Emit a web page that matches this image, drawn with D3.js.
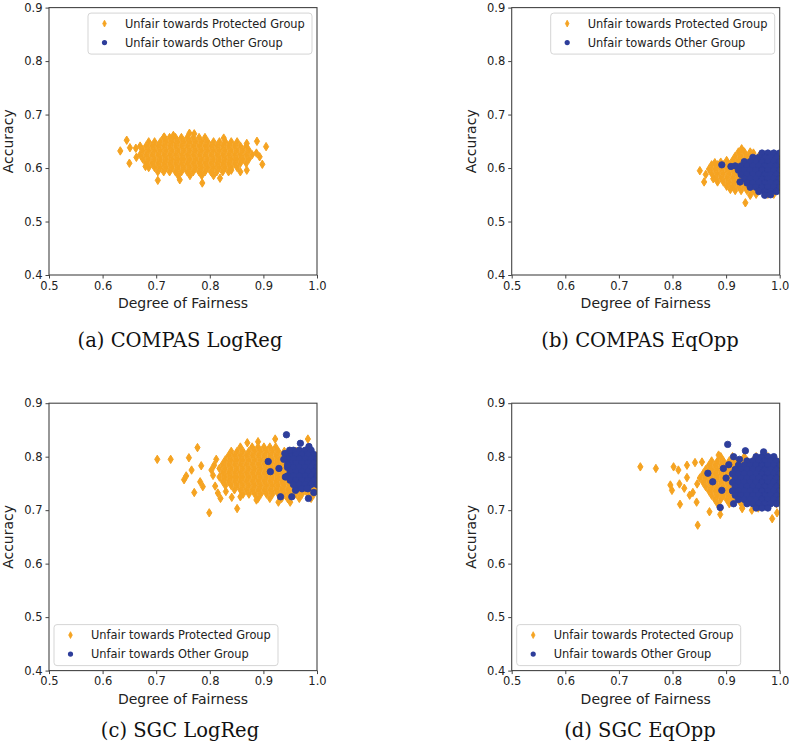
<!DOCTYPE html>
<html><head><meta charset="utf-8">
<script src="https://cdn.jsdelivr.net/npm/d3@7/dist/d3.min.js"></script>
<style>body{margin:0;background:#fff}svg{display:block}</style>
</head><body><svg id="chart" width="789" height="752"></svg>
<script>
const xTicks=[0.5,0.6,0.7,0.8,0.9,1.0];
const yTicks=[0.4,0.5,0.6,0.7,0.8,0.9];
const seriesNames=["Unfair towards Protected Group","Unfair towards Other Group"];
const captions=["(a) COMPAS LogReg","(b) COMPAS EqOpp","(c) SGC LogReg","(d) SGC EqOpp"];
const xLabel="Degree of Fairness", yLabel="Accuracy";

// rows: [accuracy, [degree of fairness values]] ; extras: [fairness, accuracy]
const aProtRows=[
[0.657,[0.714,0.725,0.736,0.747,0.758,0.769,0.780,0.791]],
[0.649,[0.686,0.697,0.708,0.719,0.730,0.741,0.752,0.763,0.774,0.785,0.796,0.807,0.818,0.829,0.840,0.851]],
[0.641,[0.670,0.681,0.692,0.703,0.714,0.725,0.736,0.747,0.758,0.769,0.780,0.791,0.802,0.813,0.824,0.835,0.846,0.857,0.868]],
[0.633,[0.675,0.686,0.697,0.708,0.719,0.730,0.741,0.752,0.763,0.774,0.785,0.796,0.807,0.818,0.829,0.840,0.851,0.862,0.873]],
[0.625,[0.670,0.681,0.692,0.703,0.714,0.725,0.736,0.747,0.758,0.769,0.780,0.791,0.802,0.813,0.824,0.835,0.846,0.857,0.868,0.879]],
[0.617,[0.675,0.686,0.697,0.708,0.719,0.730,0.741,0.752,0.763,0.774,0.785,0.796,0.807,0.818,0.829,0.840,0.851,0.862,0.873]],
[0.609,[0.681,0.692,0.703,0.714,0.725,0.736,0.747,0.758,0.769,0.780,0.791,0.802,0.813,0.824,0.835,0.846,0.857,0.868]],
[0.601,[0.686,0.697,0.708,0.719,0.730,0.741,0.752,0.763,0.774,0.785,0.796,0.807,0.818,0.829,0.840,0.851]],
[0.593,[0.703,0.714,0.725,0.736,0.747,0.758,0.769,0.780,0.791,0.802,0.813,0.824,0.835]],
[0.586,[0.741,0.763,0.785,0.807]]];
const aProtExtra=[[0.633,0.632],[0.645,0.652],[0.651,0.638],[0.662,0.637],[0.650,0.609],[0.888,0.650],[0.905,0.640],[0.898,0.607],[0.893,0.621],[0.887,0.628],[0.869,0.646],[0.857,0.593],[0.869,0.596],[0.703,0.577],[0.744,0.578],[0.786,0.572],[0.819,0.581],[0.715,0.658],[0.732,0.661],[0.762,0.665],[0.771,0.664],[0.826,0.656],[0.680,0.603],[0.840,0.596],[0.663,0.620]];
const aOtherRows=[];
const aOtherExtra=[];

const bProtRows=[
[0.630,[0.923,0.934,0.945]],
[0.622,[0.917,0.928,0.939,0.950,0.961,0.972,0.983,0.994]],
[0.614,[0.901,0.912,0.923,0.934,0.945,0.956,0.967,0.978,0.989,1.000]],
[0.606,[0.873,0.884,0.895,0.906,0.917,0.928,0.939,0.950,0.961,0.972,0.983,0.994]],
[0.598,[0.868,0.879,0.890,0.901,0.912,0.923,0.934,0.945,0.956,0.967,0.978,0.989,1.000]],
[0.590,[0.873,0.884,0.895,0.906,0.917,0.928,0.939,0.950,0.961,0.972,0.983,0.994]],
[0.582,[0.879,0.890,0.901,0.912,0.923,0.934,0.945,0.956,0.967,0.978,0.989,1.000]],
[0.574,[0.884,0.895,0.906,0.917,0.928,0.939,0.950,0.961,0.972,0.983,0.994]],
[0.566,[0.901,0.912,0.923,0.934,0.945,0.956,0.967,0.978,0.989,1.000]],
[0.558,[0.917,0.928,0.939,0.950,0.961,0.972,0.983,0.994]],
[0.551,[0.956,0.978,0.989]]];
const bProtExtra=[[0.851,0.595],[0.859,0.574],[0.936,0.535],[0.879,0.610],[0.929,0.636],[0.951,0.628],[0.862,0.588],[0.945,0.549],[0.890,0.611],[0.876,0.580],[0.908,0.560]];
const bOtherRows=[
[0.628,[0.967,0.978,0.989,1.000]],
[0.620,[0.950,0.961,0.972,0.983,0.994]],
[0.612,[0.934,0.945,0.956,0.967,0.978,0.989,1.000]],
[0.604,[0.917,0.928,0.939,0.950,0.961,0.972,0.983,0.994]],
[0.596,[0.923,0.934,0.945,0.956,0.967,0.978,0.989,1.000]],
[0.588,[0.928,0.939,0.950,0.961,0.972,0.983,0.994]],
[0.580,[0.934,0.945,0.956,0.967,0.978,0.989,1.000]],
[0.572,[0.939,0.950,0.961,0.972,0.983,0.994]],
[0.564,[0.945,0.956,0.967,0.978,0.989,1.000]],
[0.556,[0.961,0.972,0.983,0.994]]];
const bOtherExtra=[[0.892,0.606],[0.909,0.603],[0.926,0.574],[0.972,0.549],[0.983,0.550]];

const cProtRows=[
[0.818,[0.857,0.879,0.890,0.901,0.912,0.923]],
[0.810,[0.840,0.851,0.862,0.873,0.884,0.895,0.906,0.917,0.928,0.939,0.950,0.961]],
[0.802,[0.835,0.846,0.857,0.868,0.879,0.890,0.901,0.912,0.923,0.934,0.945,0.956,0.967,0.978,0.989,1.000]],
[0.794,[0.829,0.840,0.851,0.862,0.873,0.884,0.895,0.906,0.917,0.928,0.939,0.950,0.961,0.972,0.983,0.994]],
[0.786,[0.824,0.835,0.846,0.857,0.868,0.879,0.890,0.901,0.912,0.923,0.934,0.945,0.956,0.967,0.978,0.989,1.000]],
[0.778,[0.818,0.829,0.840,0.851,0.862,0.873,0.884,0.895,0.906,0.917,0.928,0.939,0.950,0.961,0.972,0.983,0.994]],
[0.770,[0.824,0.835,0.846,0.857,0.868,0.879,0.890,0.901,0.912,0.923,0.934,0.945,0.956,0.967,0.978,0.989,1.000]],
[0.762,[0.818,0.829,0.840,0.851,0.862,0.873,0.884,0.895,0.906,0.917,0.928,0.939,0.950,0.961,0.972,0.983,0.994]],
[0.754,[0.824,0.835,0.846,0.857,0.868,0.879,0.890,0.901,0.912,0.923,0.934,0.945,0.956,0.967,0.978,0.989,1.000]],
[0.746,[0.829,0.840,0.851,0.862,0.873,0.884,0.895,0.906,0.917,0.928,0.939,0.950,0.961,0.972,0.983,0.994]],
[0.738,[0.846,0.857,0.868,0.879,0.890,0.901,0.912,0.923,0.934,0.945,0.956,0.967,0.978,0.989,1.000]],
[0.730,[0.862,0.873,0.884,0.895,0.906,0.917,0.928,0.939,0.950,0.961,0.972,0.983,0.994]],
[0.722,[0.890,0.912,0.934,0.945,0.967,0.989]],
[0.715,[0.928,0.950]]];
const cProtExtra=[[0.702,0.795],[0.727,0.795],[0.777,0.817],[0.761,0.798],[0.766,0.775],[0.752,0.757],[0.756,0.764],[0.771,0.733],[0.784,0.783],[0.782,0.753],[0.787,0.744],[0.799,0.695],[0.851,0.703],[0.820,0.722],[0.808,0.784],[0.841,0.724],[0.857,0.725],[0.887,0.719],[0.922,0.833],[0.983,0.833],[0.890,0.828],[0.806,0.765],[0.803,0.775],[0.810,0.745],[0.815,0.732],[0.870,0.826],[0.812,0.795],[0.830,0.735]];
const cOtherRows=[
[0.812,[0.956,0.967,0.978,0.989]],
[0.804,[0.950,0.961,0.972,0.983,0.994]],
[0.796,[0.945,0.956,0.967,0.978,0.989,1.000]],
[0.788,[0.950,0.961,0.972,0.983,0.994]],
[0.780,[0.945,0.956,0.967,0.978,0.989,1.000]],
[0.772,[0.950,0.961,0.972,0.983,0.994]],
[0.764,[0.945,0.956,0.967,0.978,0.989,1.000]],
[0.756,[0.950,0.961,0.972,0.983,0.994]],
[0.748,[0.956,0.967,0.978,0.989,1.000]],
[0.740,[0.961,0.972,0.983]]];
const cOtherExtra=[[0.943,0.841],[0.969,0.825],[0.909,0.791],[0.913,0.772],[0.929,0.778],[0.941,0.762],[0.932,0.725],[0.953,0.725],[0.984,0.722],[0.981,0.741],[0.994,0.733],[0.960,0.737],[0.985,0.819],[0.949,0.812],[0.940,0.806],[0.945,0.785],[0.938,0.795]];

const dProtRows=[
[0.800,[0.890,0.912,0.934,0.956,0.978]],
[0.792,[0.873,0.884,0.895,0.906,0.917,0.928,0.939,0.950,0.961,0.972,0.983,0.994]],
[0.784,[0.868,0.879,0.890,0.901,0.912,0.923,0.934,0.945,0.956,0.967,0.978,0.989,1.000]],
[0.776,[0.862,0.873,0.884,0.895,0.906,0.917,0.928,0.939,0.950,0.961,0.972,0.983,0.994]],
[0.768,[0.857,0.868,0.879,0.890,0.901,0.912,0.923,0.934,0.945,0.956,0.967,0.978,0.989,1.000]],
[0.760,[0.851,0.862,0.873,0.884,0.895,0.906,0.917,0.928,0.939,0.950,0.961,0.972,0.983,0.994]],
[0.752,[0.857,0.868,0.879,0.890,0.901,0.912,0.923,0.934,0.945,0.956,0.967,0.978,0.989,1.000]],
[0.744,[0.862,0.873,0.884,0.895,0.906,0.917,0.928,0.939,0.950,0.961,0.972,0.983,0.994]],
[0.736,[0.868,0.879,0.890,0.901,0.912,0.923,0.934,0.945,0.956,0.967,0.978,0.989,1.000]],
[0.728,[0.873,0.884,0.895,0.906,0.917,0.928,0.939,0.950,0.961,0.972,0.983,0.994]],
[0.720,[0.879,0.890,0.901,0.912,0.923,0.934,0.945,0.956,0.967,0.978,0.989,1.000]],
[0.712,[0.884,0.906,0.928,0.950,0.972,0.994]],
[0.704,[0.890,0.930,0.960]]];
const dProtExtra=[[0.740,0.781],[0.769,0.778],[0.802,0.781],[0.811,0.775],[0.827,0.784],[0.842,0.789],[0.886,0.803],[0.796,0.747],[0.799,0.737],[0.813,0.749],[0.822,0.741],[0.832,0.728],[0.814,0.711],[0.847,0.672],[0.869,0.697],[0.827,0.761],[0.846,0.749],[0.986,0.684],[0.995,0.695],[0.948,0.700],[0.930,0.703],[0.889,0.692],[0.838,0.733],[0.845,0.715],[0.855,0.790]];
const dOtherRows=[
[0.800,[0.956,0.967,0.978,0.989]],
[0.792,[0.939,0.950,0.961,0.972,0.983,0.994]],
[0.784,[0.923,0.934,0.945,0.956,0.967,0.978,0.989,1.000]],
[0.776,[0.917,0.928,0.939,0.950,0.961,0.972,0.983,0.994]],
[0.768,[0.912,0.923,0.934,0.945,0.956,0.967,0.978,0.989,1.000]],
[0.760,[0.917,0.928,0.939,0.950,0.961,0.972,0.983,0.994]],
[0.752,[0.912,0.923,0.934,0.945,0.956,0.967,0.978,0.989,1.000]],
[0.744,[0.917,0.928,0.939,0.950,0.961,0.972,0.983,0.994]],
[0.736,[0.912,0.923,0.934,0.945,0.956,0.967,0.978,0.989,1.000]],
[0.728,[0.917,0.928,0.939,0.950,0.961,0.972,0.983,0.994]],
[0.720,[0.923,0.934,0.945,0.956,0.967,0.978,0.989,1.000]],
[0.712,[0.939,0.950,0.961,0.972,0.983,0.994]],
[0.704,[0.956,0.967,0.978]]];
const dOtherExtra=[[0.903,0.823],[0.914,0.800],[0.936,0.811],[0.866,0.769],[0.875,0.753],[0.892,0.737],[0.895,0.778],[0.889,0.705],[0.914,0.712],[0.970,0.809],[0.900,0.760],[0.905,0.785],[0.925,0.795]];

// ---- drawing ----
const ORANGE="#f5a321", BLUE="#2e3e9b", INK="#222";
const SANS="'DejaVu Sans', sans-serif";
const svg=d3.select("#chart");
const pts=(rows,extra)=>rows.flatMap(([acc,xs])=>xs.map(f=>[f,acc])).concat(extra);
const PW=268, PH=267.4;
const panels=[
 {prot:pts(aProtRows,aProtExtra),other:pts(aOtherRows,aOtherExtra),left:49,top:7.6,leg:"top",capX:180,capY:347},
 {prot:pts(bProtRows,bProtExtra),other:pts(bOtherRows,bOtherExtra),left:511.7,top:7.6,leg:"top",capX:640,capY:347},
 {prot:pts(cProtRows,cProtExtra),other:pts(cOtherRows,cOtherExtra),left:49,top:403.2,leg:"bottom",capX:180,capY:737},
 {prot:pts(dProtRows,dProtExtra),other:pts(dOtherRows,dOtherExtra),left:511.7,top:403.2,leg:"bottom",capX:640,capY:737}
];
const diamondPath="M0,-4.2L2.6,0L0,4.2L-2.6,0Z";
const legDiamond="M0,-3.4L1.8,0L0,3.4L-1.8,0Z";

panels.forEach((p,i)=>{
  const x=d3.scaleLinear().domain([0.5,1.0]).range([p.left,p.left+PW]);
  const y=d3.scaleLinear().domain([0.4,0.9]).range([p.top+PH,p.top]);
  const g=svg.append("g");
  g.append("clipPath").attr("id","clip"+i).append("rect")
    .attr("x",p.left).attr("y",p.top).attr("width",PW).attr("height",PH);
  const pg=g.append("g").attr("clip-path",`url(#clip${i})`);
  pg.selectAll("path.prot").data(p.prot).join("path").attr("class","prot")
    .attr("d",diamondPath).attr("transform",d=>`translate(${x(d[0])},${y(d[1])})`)
    .attr("fill",ORANGE).attr("stroke",ORANGE).attr("stroke-width",1);
  pg.selectAll("circle.other").data(p.other).join("circle").attr("class","other")
    .attr("cx",d=>x(d[0])).attr("cy",d=>y(d[1])).attr("r",3.2)
    .attr("fill",BLUE).attr("stroke",BLUE).attr("stroke-width",0.9);

  const xa=g.append("g").attr("transform",`translate(0,${p.top+PH})`)
    .call(d3.axisBottom(x).tickValues(xTicks).tickFormat(d3.format(".1f")).tickSize(3.5).tickPadding(3));
  const ya=g.append("g").attr("transform",`translate(${p.left},0)`)
    .call(d3.axisLeft(y).tickValues(yTicks).tickFormat(d3.format(".1f")).tickSize(3.5).tickPadding(3));
  [xa,ya].forEach(a=>{
    a.select(".domain").remove();
    a.selectAll(".tick line").attr("stroke","#444").attr("stroke-width",1);
    a.selectAll(".tick text").attr("fill",INK).style("font-family",SANS).style("font-size","11.5px");
  });
  g.append("rect").attr("x",p.left).attr("y",p.top).attr("width",PW).attr("height",PH)
    .attr("fill","none").attr("stroke","#444").attr("stroke-width",1.1);

  g.append("text").attr("x",p.left+PW/2).attr("y",p.top+PH+33)
    .attr("text-anchor","middle").attr("fill",INK)
    .style("font-family",SANS).style("font-size","14px").text(xLabel);
  g.append("text").attr("transform",`translate(${p.left-36},${p.top+PH/2}) rotate(-90)`)
    .attr("text-anchor","middle").attr("fill",INK)
    .style("font-family",SANS).style("font-size","14px").text(yLabel);

  // legend
  const lw=224, lh=41;
  const lx= p.leg==="top" ? p.left+PW-lw-5 : p.left+5;
  const ly= p.leg==="top" ? p.top+5.5 : p.top+PH-lh-5;
  const lg=g.append("g").attr("transform",`translate(${lx},${ly})`);
  lg.append("rect").attr("width",lw).attr("height",lh).attr("rx",3)
    .attr("fill","#fff").attr("fill-opacity",0.8).attr("stroke","#d0d0d0").attr("stroke-width",0.9);
  const rowsY=[10.5,29.5];
  lg.append("path").attr("d",legDiamond).attr("transform",`translate(16.5,${rowsY[0]})`)
    .attr("fill",ORANGE).attr("stroke",ORANGE).attr("stroke-width",0.8);
  lg.append("circle").attr("cx",16.5).attr("cy",rowsY[1]).attr("r",2.6).attr("fill",BLUE);
  seriesNames.forEach((s,k)=>{
    lg.append("text").attr("x",37).attr("y",rowsY[k]).attr("dy","0.36em").attr("fill",INK)
      .style("font-family",SANS).style("font-size","11.4px").text(s);
  });

  svg.append("text").attr("x",p.capX).attr("y",p.capY).attr("text-anchor","middle")
    .attr("fill","#111").style("font-family","'DejaVu Serif', serif").style("font-size","19.5px")
    .text(captions[i]);
});
</script></body></html>
